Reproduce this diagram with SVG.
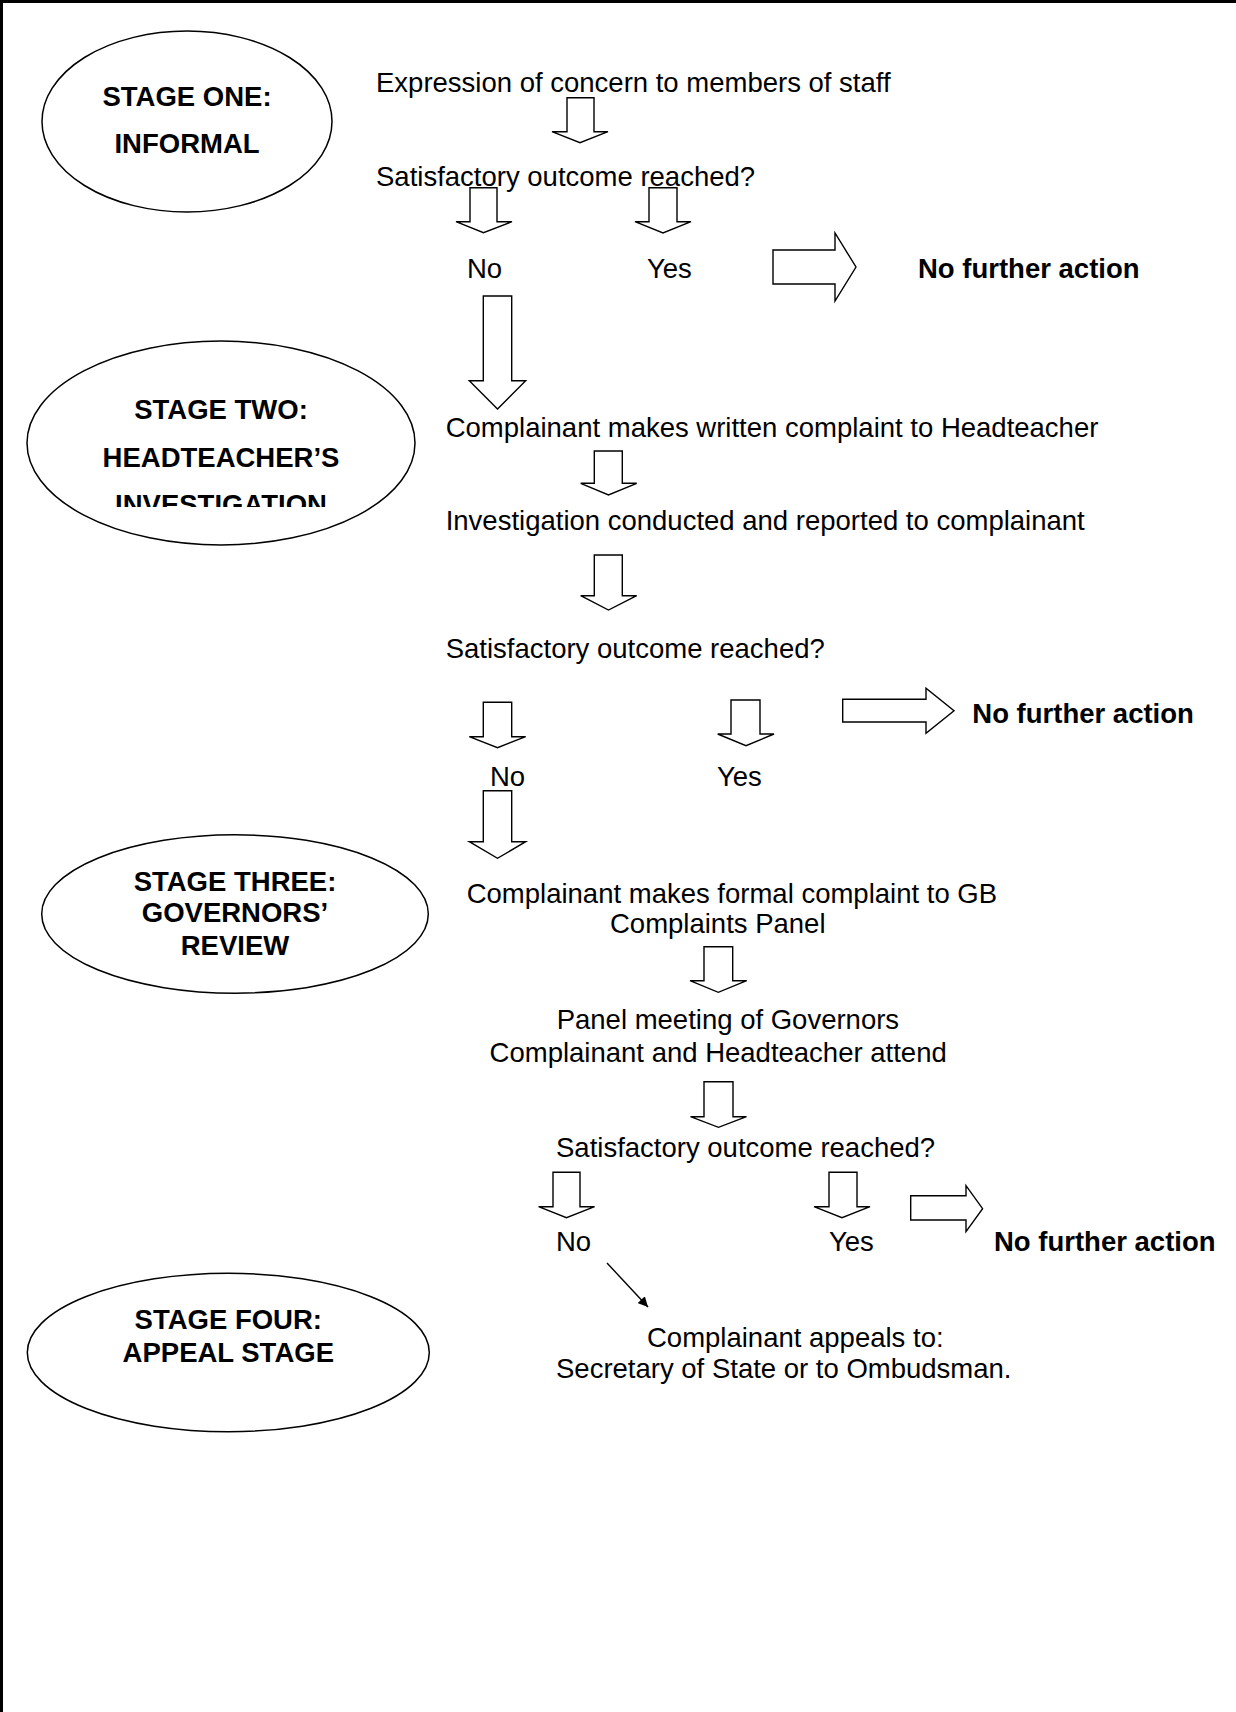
<svg xmlns="http://www.w3.org/2000/svg" width="1236" height="1712" viewBox="0 0 1236 1712">
<style>
text{font-family:"Liberation Sans",Arial,sans-serif;font-size:27.5px;fill:#000}
.b{font-weight:bold}
.m{text-anchor:middle}
.ell{fill:#fff;stroke:#000;stroke-width:1.5}
.arr{fill:#fff;stroke:#000;stroke-width:1.4;stroke-linejoin:miter}
.ln{fill:none;stroke:#000;stroke-width:1.4}
.frame{fill:none;stroke:#000;stroke-width:3}
</style>
<defs>
<clipPath id="clipInv"><rect x="0" y="0" width="1236" height="507"/></clipPath>
<marker id="tri" viewBox="0 0 10 10" refX="10" refY="5" markerWidth="10" markerHeight="10" markerUnits="userSpaceOnUse" orient="auto"><path d="M0,0 L10,5 L0,10 z" fill="#000"/></marker>
</defs>
<rect x="0" y="0" width="1236" height="1712" fill="#fff"/>
<path class="frame" d="M1.5,1712 L1.5,1.5 L1236,1.5"/>

<g id="stage1">
<ellipse class="ell" cx="187" cy="121.5" rx="145" ry="90.5"/>
<text class="b m" x="187" y="106">STAGE ONE:</text>
<text class="b m" x="187" y="152.7">INFORMAL</text>
</g>
<g id="stage2">
<ellipse class="ell" cx="221" cy="443" rx="194" ry="102"/>
<text class="b m" x="221" y="419">STAGE TWO:</text>
<text class="b m" x="221" y="466.7">HEADTEACHER’S</text>
<text class="b m" x="221" y="513.7" clip-path="url(#clipInv)">INVESTIGATION</text>
</g>
<g id="stage3">
<ellipse class="ell" cx="235" cy="914" rx="193.3" ry="79.2"/>
<text class="b m" x="235" y="890.7">STAGE THREE:</text>
<text class="b m" x="235" y="922.3">GOVERNORS’</text>
<text class="b m" x="235" y="955">REVIEW</text>
</g>
<g id="stage4">
<ellipse class="ell" cx="228.3" cy="1352.5" rx="201" ry="79.2"/>
<text class="b m" x="228.3" y="1329">STAGE FOUR:</text>
<text class="b m" x="228.3" y="1361.7">APPEAL STAGE</text>
</g>

<g id="n-expression"><text x="376" y="91.7">Expression of concern to members of staff</text></g>
<g id="n-satisfactory1"><text x="376" y="185.7">Satisfactory outcome reached?</text></g>
<g id="n-no1"><text x="467" y="278.3">No</text></g>
<g id="n-yes1"><text x="647" y="278.3">Yes</text></g>
<g id="n-nfa1"><text class="b" x="918" y="278.3">No further action</text></g>
<g id="n-written"><text x="445.7" y="436.5">Complainant makes written complaint to Headteacher</text></g>
<g id="n-investigation"><text x="445.7" y="530">Investigation conducted and reported to complainant</text></g>
<g id="n-satisfactory2"><text x="445.7" y="658.3">Satisfactory outcome reached?</text></g>
<g id="n-no2"><text x="490" y="786">No</text></g>
<g id="n-yes2"><text x="717" y="786">Yes</text></g>
<g id="n-nfa2"><text class="b" x="972.3" y="722.7">No further action</text></g>
<g id="n-formal"><text x="466.7" y="902.7">Complainant makes formal complaint to GB</text><text x="610" y="933.3">Complaints Panel</text></g>
<g id="n-panel"><text x="556.7" y="1029">Panel meeting of Governors</text><text x="489.6" y="1061.5">Complainant and Headteacher attend</text></g>
<g id="n-satisfactory3"><text x="556" y="1156.7">Satisfactory outcome reached?</text></g>
<g id="n-no3"><text x="556" y="1251">No</text></g>
<g id="n-yes3"><text x="829" y="1251">Yes</text></g>
<g id="n-nfa3"><text class="b" x="994" y="1251">No further action</text></g>
<g id="n-appeal"><text x="647" y="1346.7">Complainant appeals to:</text><text x="556" y="1378.3">Secretary of State or to Ombudsman.</text></g>

<g id="connectors">
<polygon class="arr" points="567,97.7 594,97.7 594,131.7 608,131.7 580,142.7 552,131.7 567,131.7"/>
<polygon class="arr" points="470,187.7 497,187.7 497,221.7 512,221.7 483.5,232.7 456,221.7 470,221.7"/>
<polygon class="arr" points="649,187.7 677,187.7 677,221.7 691,221.7 663,233 635,221.7 649,221.7"/>
<polygon class="arr" points="773,250 835,250 835,233 856,267 835,301 835,284 773,284"/>
<polygon class="arr" points="483.3,296 511.7,296 511.7,380.7 525.7,380.7 497.5,409 469.3,380.7 483.3,380.7"/>
<polygon class="arr" points="594.3,451 622.3,451 622.3,483.3 636.7,483.3 608.5,495 580.7,483.3 594.3,483.3"/>
<polygon class="arr" points="594.3,555 622.3,555 622.3,595.7 636.7,595.7 608.5,610 580.7,595.7 594.3,595.7"/>
<polygon class="arr" points="483.3,702.3 511.7,702.3 511.7,736.7 525.7,736.7 497.5,747.7 469.3,736.7 483.3,736.7"/>
<polygon class="arr" points="731,700 760,700 760,734 774,734 746,745.7 717.7,734 731,734"/>
<polygon class="arr" points="842.7,699.3 926,699.3 926,688.3 954,710.7 926,733.3 926,722 842.7,722"/>
<polygon class="arr" points="483.3,790.7 511.7,790.7 511.7,841.7 525.7,841.7 497.5,858.3 469.3,841.7 483.3,841.7"/>
<polygon class="arr" points="704,946.7 732.7,946.7 732.7,980.7 746.7,980.7 718.3,992.3 690,980.7 704,980.7"/>
<polygon class="arr" points="704,1081.7 733,1081.7 733,1116.7 746.5,1116.7 718.5,1127.3 690.5,1116.7 704,1116.7"/>
<polygon class="arr" points="553,1172.3 580,1172.3 580,1206.7 594.6,1206.7 566.5,1217.7 538.6,1206.7 553,1206.7"/>
<polygon class="arr" points="829,1172.3 857,1172.3 857,1206.7 870,1206.7 842,1217.7 814,1206.7 829,1206.7"/>
<polygon class="arr" points="910.7,1195.7 966,1195.7 966,1185.7 982.6,1208.7 966,1231.7 966,1220 910.7,1220"/>
<line class="ln" x1="607" y1="1263" x2="648" y2="1307" marker-end="url(#tri)"/>
</g>
</svg>
